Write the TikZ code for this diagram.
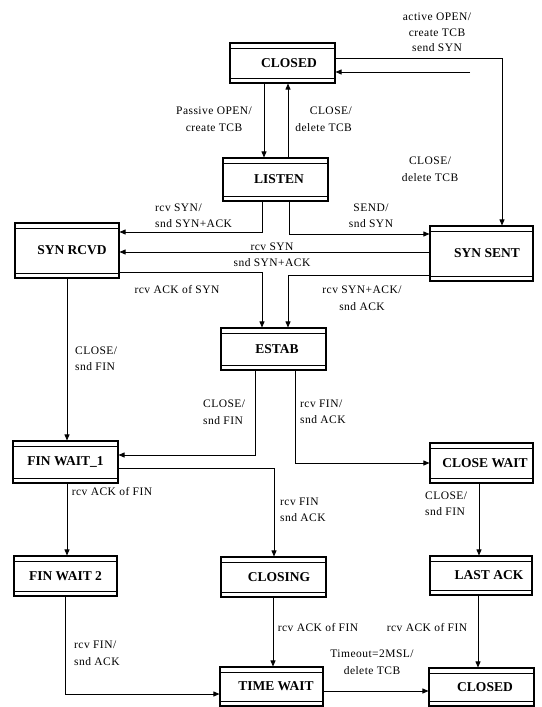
\documentclass[tikz,border=0pt]{standalone}
\usepackage{fontspec}
\setmainfont{Liberation Serif}
\newfontfamily\labfont[LetterSpace=4]{Liberation Serif}
\usetikzlibrary{arrows.meta}
\begin{document}
\begin{tikzpicture}[x=1pt,y=-1pt,
  statebox/.style={draw, line width=1.1pt, inner sep=0pt,
    font=\fontsize{13.5}{16}\selectfont\bfseries,
    path picture={
      \draw[line width=0.7pt] ([yshift=-5.5pt]path picture bounding box.north west) -- ([yshift=-5.5pt]path picture bounding box.north east);
      \draw[line width=0.7pt] ([yshift=4.5pt]path picture bounding box.south west) -- ([yshift=4.5pt]path picture bounding box.south east);}},
  lab/.style={font=\labfont\fontsize{11.5}{16.5}\selectfont, inner sep=0pt, align=center},
  arr/.style={line width=0.8pt, -{Triangle[length=6pt,width=5pt]}}]
\useasboundingbox (0,0) rectangle (541,707);

% states
\node[statebox, minimum width=105pt, minimum height=40pt] (closedA) at (282.5,63) {\hspace*{13pt}CLOSED};
\node[statebox, minimum width=105pt, minimum height=43pt] (listen) at (275.5,179.5) {\hspace*{7pt}LISTEN};
\node[statebox, minimum width=104pt, minimum height=55pt] (synrcvd) at (67,250.5) {\hspace*{10pt}SYN RCVD};
\node[statebox, minimum width=103pt, minimum height=55pt] (synsent) at (481.5,253.5) {\hspace*{11pt}SYN SENT};
\node[statebox, minimum width=105pt, minimum height=42pt] (estab) at (273.5,349) {\hspace*{7pt}ESTAB};
\node[statebox, minimum width=105pt, minimum height=42pt] (finwa) at (65.5,462) {FIN WAIT\_1};
\node[statebox, minimum width=103pt, minimum height=40pt] (closewait) at (481.5,463) {\hspace*{7pt}CLOSE WAIT};
\node[statebox, minimum width=103pt, minimum height=40pt] (finwb) at (65.5,576) {FIN WAIT 2};
\node[statebox, minimum width=105pt, minimum height=40pt] (closing) at (273.5,577) {\hspace*{11pt}CLOSING};
\node[statebox, minimum width=102pt, minimum height=39pt] (lastack) at (481,575.5) {\hspace*{16pt}LAST ACK};
\node[statebox, minimum width=103pt, minimum height=39pt] (timewait) at (271.5,686.5) {\hspace*{9pt}TIME WAIT};
\node[statebox, minimum width=105pt, minimum height=38pt] (closedB) at (481.5,687) {\hspace*{7pt}CLOSED};

% connectors
\draw[arr] (closedA.south -| 264,0) -- (listen.north -| 264,0);
\draw[arr] (listen.north -| 288,0) -- (closedA.south -| 288,0);
\draw[arr] (closedA.east |- 0,58) -| (synsent.north -| 502,0);
\coordinate (freeclose) at (470,72);
\draw[arr] (freeclose) -- (closedA.east |- freeclose);
\draw[arr] (listen.south -| 262,0) |- (synrcvd.east |- 0,232);
\draw[arr] (listen.south -| 289,0) |- (synsent.west |- 0,234);
\draw[arr] (synsent.west |- 0,252) -- (synrcvd.east |- 0,252);
\draw[arr] (synrcvd.east |- 0,272) -| (estab.north -| 262,0);
\draw[arr] (synsent.west |- 0,275) -| (estab.north -| 288,0);
\draw[arr] (synrcvd.south -| 67,0) -- (finwa.north -| 67,0);
\draw[arr] (estab.south -| 255,0) |- (finwa.east |- 0,455);
\draw[arr] (estab.south -| 295,0) |- (closewait.west |- 0,463);
\draw[arr] (finwa.east |- 0,468) -| (closing.north -| 274,0);
\draw[arr] (finwa.south -| 67,0) -- (finwb.north -| 67,0);
\draw[arr] (closewait.south -| 479,0) -- (lastack.north -| 479,0);
\draw[arr] (closing.south -| 273,0) -- (timewait.north -| 273,0);
\draw[arr] (lastack.south -| 478,0) -- (closedB.north -| 478,0);
\draw[arr] (finwb.south -| 65,0) |- (timewait.west |- 0,694);
\draw[arr] (timewait.east |- 0,691) -- (closedB.west |- 0,691);

% labels
\node[lab, font=\labfont\fontsize{11.5}{15.5}\selectfont] (lActive) at (437,32.5) {active OPEN/\\create TCB\\send SYN};
\node[lab] (lPassive) at (214,119) {Passive OPEN/\\create TCB};
\node[lab, anchor=east, align=right] (lClose1) at (352,119) {CLOSE/\\delete TCB};
\node[lab] (lClose2) at (430,169) {CLOSE/\\delete TCB};
\node[lab, anchor=west, align=left] (lRcvSyn) at (155,215.5) {rcv SYN/\\snd SYN+ACK};
\node[lab] (lSend) at (371,215.5) {SEND/\\snd SYN};
\node[lab] (lRcvSyn2) at (272,254.5) {rcv SYN\\snd SYN+ACK};
\node[lab] (lRcvAckSyn) at (177,290) {rcv ACK of SYN};
\node[lab] (lRcvSynAck) at (362,298) {rcv SYN+ACK/\\snd ACK};
\node[lab, anchor=west, align=left] (lClose3) at (75,358.5) {CLOSE/\\snd FIN};
\node[lab, anchor=west, align=left] (lClose4) at (203,412) {CLOSE/\\snd FIN};
\node[lab, anchor=west, align=left] (lRcvFin1) at (300,412) {rcv FIN/\\snd ACK};
\node[lab] (lRcvAckFin1) at (112,492) {rcv ACK of FIN};
\node[lab, anchor=west, align=left] (lRcvFin2) at (280,510) {rcv FIN\\snd ACK};
\node[lab, anchor=west, align=left] (lClose5) at (425,503.5) {CLOSE/\\snd FIN};
\node[lab] (lRcvAckFin2) at (318,627) {rcv ACK of FIN};
\node[lab] (lRcvAckFin3) at (427,627) {rcv ACK of FIN};
\node[lab, anchor=west, align=left] (lRcvFin3) at (74,653.5) {rcv FIN/\\snd ACK};
\node[lab] (lTimeout) at (372,662) {Timeout=2MSL/\\delete TCB};
\end{tikzpicture}
\end{document}
